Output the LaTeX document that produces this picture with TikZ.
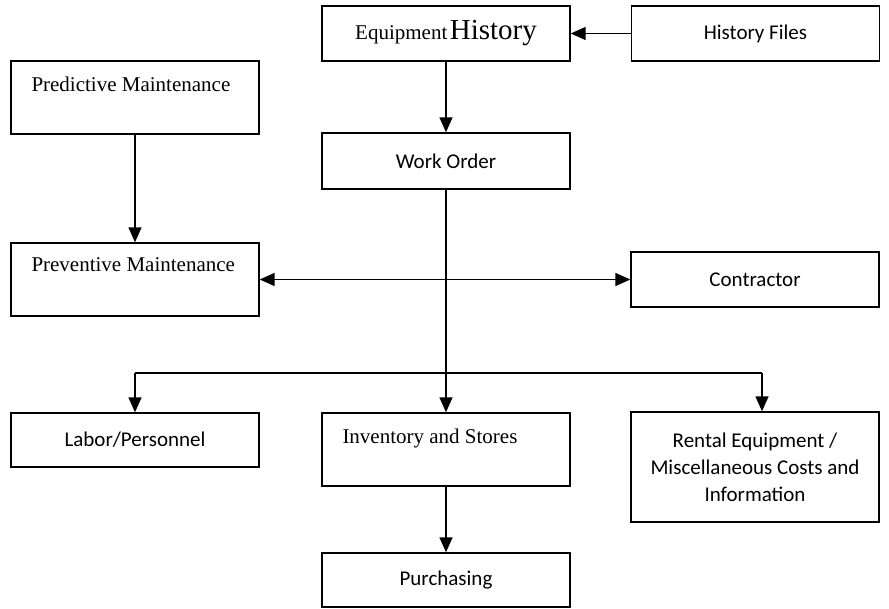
\documentclass[tikz,border=0pt]{standalone}
\usepackage{fontspec}
\setmainfont{Liberation Serif}
\newfontfamily\sansf{Carlito}
\usetikzlibrary{arrows.meta}
\begin{document}
\begin{tikzpicture}[x=1pt,y=-1pt,
  box/.style={draw, line width=1.4pt, inner sep=0pt, minimum width=248pt, minimum height=#1},
  box/.default=55pt,
  sanst/.style={font=\sansf\fontsize{21}{27}\selectfont, align=center},
  serift/.style={font=\fontsize{21}{25}\selectfont, inner sep=0pt, anchor=base west},
  tip/.tip={Triangle[length=15pt,width=13pt]},
  conn/.style={line width=1.5pt, -tip},
  plain/.style={line width=1.5pt}]
\useasboundingbox (0,0) rectangle (889,609);
% boxes
\node[box] (eh) at (446,33.5) {{\fontsize{21}{25}\selectfont Equipment} {\fontsize{29}{33}\selectfont History}};
\node[box, sanst] (hf) at (755.5,33.5) {History Files};
\node[box=73pt] (pred) at (135,97.5) {};
\node[box=56pt, sanst] (wo) at (446,161) {Work Order};
\node[box=73pt] (prev) at (135,279.5) {};
\node[box, sanst] (con) at (755,279.5) {Contractor};
\node[box=54pt, sanst] (lab) at (135,440) {Labor/Personnel};
\node[box=73pt] (inv) at (446,449.5) {};
\node[box=110pt, sanst] (rent) at (755,467) {Rental Equipment /\\Miscellaneous Costs and\\Information};
\node[box=54pt, sanst] (pur) at (446,580) {Purchasing};
% top-left serif labels
\node[serift] (predt) at ([xshift=21pt,yshift=-31pt]pred.north west) {Predictive Maintenance};
\node[serift] (prevt) at ([xshift=21pt,yshift=-29pt]prev.north west) {Preventive Maintenance};
\node[serift] (invt) at ([xshift=21pt,yshift=-31pt]inv.north west) {Inventory and Stores};
% connectors
\draw[conn] (hf.west) -- (eh.east);
\draw[conn] (eh.south) -- (wo.north);
\draw[conn] (pred.south) -- (prev.north);
\draw[conn] (wo.south) -- (inv.north);
\draw[plain, tip-tip] (prev.east) -- (con.west);
\coordinate (bl) at (135,373);
\coordinate (br) at (762,373);
\draw[plain] (bl) -- (br);
\draw[conn] (bl) -- (lab.north);
\draw[conn] (br) -- (br |- rent.north);
\draw[conn] (inv.south) -- (pur.north);
\end{tikzpicture}
\end{document}
